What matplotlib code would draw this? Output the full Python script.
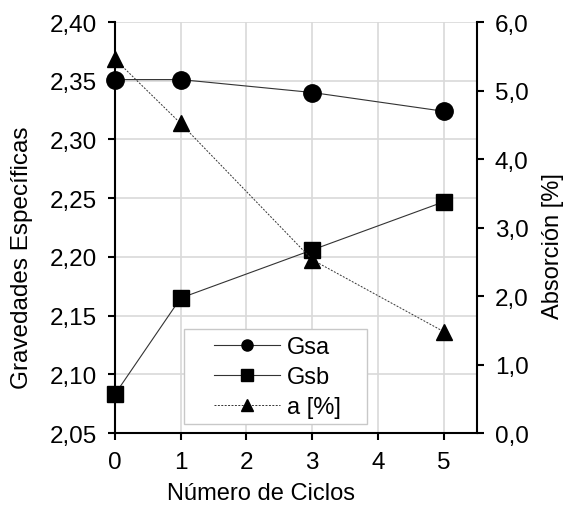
import matplotlib.pyplot as plt
from matplotlib.ticker import FuncFormatter, MultipleLocator
from matplotlib.lines import Line2D
from matplotlib.patches import Rectangle

plt.rcParams['font.family'] = ['Liberation Sans', 'DejaVu Sans']

ciclos = [0, 1, 3, 5]
gsa = [2.351, 2.351, 2.340, 2.324]
gsb = [2.083, 2.165, 2.206, 2.247]
absorcion = [5.46, 4.52, 2.53, 1.48]

fig = plt.figure(figsize=(5.63, 5.06), dpi=100)
ax = fig.add_axes([0.204, 0.142, 0.643, 0.8125])
ax2 = ax.twinx()

ax.plot(ciclos, gsa, color='#333333', lw=0.8, marker='o', ms=12.5,
        mfc='black', mec='black', label='Gsa', clip_on=False, zorder=3)
ax.plot(ciclos, gsb, color='#333333', lw=0.8, marker='s', ms=12,
        mfc='black', mec='black', label='Gsb', clip_on=False, zorder=3)
ax2.plot(ciclos, absorcion, color='#333333', lw=0.7, ls=(0, (2, 1.5)),
         marker='^', ms=12, mfc='black', mec='black', label='a [%]',
         clip_on=False, zorder=3)

ax.set_xlim(0, 5.5)
ax.set_ylim(2.05, 2.40)
ax2.set_ylim(0, 6.0)
ax.set_xticks([0, 1, 2, 3, 4, 5])
ax.yaxis.set_major_locator(MultipleLocator(0.05))
ax2.yaxis.set_major_locator(MultipleLocator(1.0))
ax.yaxis.set_major_formatter(FuncFormatter(lambda v, p: f"{v:.2f}".replace('.', ',')))
ax2.yaxis.set_major_formatter(FuncFormatter(lambda v, p: f"{v:.1f}".replace('.', ',')))

ax.grid(True, color='#d9d9d9', lw=1.2)
ax.set_axisbelow(True)

for a in (ax, ax2):
    a.spines['top'].set_visible(False)
    for s in ('left', 'right', 'bottom'):
        a.spines[s].set_linewidth(1.5)
    a.tick_params(direction='out', length=5, width=1.5, labelsize=17.5, pad=8)
ax.spines['right'].set_visible(False)
ax2.spines['left'].set_visible(False)
ax2.spines['bottom'].set_visible(False)

# axis titles are not centred on the plot in the original
ax.set_xlabel('Número de Ciclos', fontsize=17)
ax.set_ylabel('Gravedades Específicas', fontsize=17.5)
ax2.set_ylabel('Absorción [%]', fontsize=17)
ax.xaxis.set_label_coords(0.403, -0.118)
ax.yaxis.set_label_coords(-0.225, 0.43)
ax2.yaxis.set_label_coords(1.18, 0.457)

# legend box drawn separately so its padding can match the original
ax2.add_patch(Rectangle((0.19, 0.022), 0.506, 0.231, transform=ax2.transAxes,
                        facecolor='white', edgecolor='#c8c8c8', lw=1.0,
                        zorder=4, clip_on=False))
handles = [
    Line2D([], [], color='#333333', lw=0.8, marker='o', ms=8, mfc='black', mec='black'),
    Line2D([], [], color='#333333', lw=0.8, marker='s', ms=8.5, mfc='black', mec='black'),
    Line2D([], [], color='#333333', lw=0.7, ls=(0, (2, 1.5)), marker='^', ms=8.5,
           mfc='black', mec='black'),
]
leg = ax2.legend(handles, ['Gsa', 'Gsb', 'a [%]'], loc='center left',
                 bbox_to_anchor=(0.273, 0.136), fontsize=17, handlelength=2.8,
                 frameon=False, borderpad=0, borderaxespad=0,
                 labelspacing=0.33, handletextpad=0.3)
leg.set_zorder(5)

fig.savefig('out.png', dpi=100)
